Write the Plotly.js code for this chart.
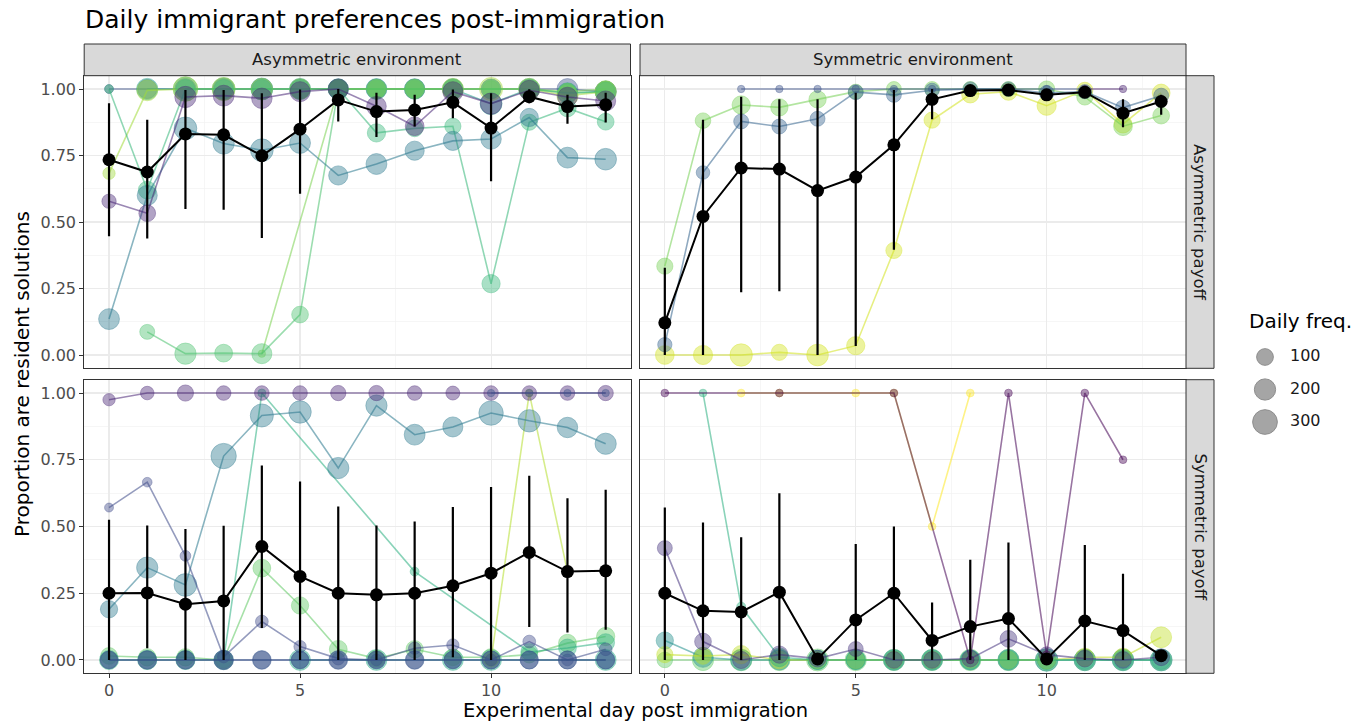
<!DOCTYPE html>
<html><head><meta charset="utf-8">
<script src="https://cdn.plot.ly/plotly-3.0.1.min.js"></script>
<style>html,body{margin:0;padding:0;background:#fff}#chart{width:1369px;height:723px}</style>
</head><body><div id="chart"></div>
<script>
// ---------------- DATA ----------------
const days = [0,1,2,3,4,5,6,7,8,9,10,11,12,13];
const colLabels = ["Asymmetric environment", "Symmetric environment"];
const rowLabels = ["Asymmetric payoff", "Symmetric payoff"];
const legendBreaks = [100, 200, 300];

// Panel: Asymmetric environment / Asymmetric payoff
const aeap_mean  = [0.734,0.688,0.831,0.828,0.749,0.849,0.959,0.915,0.921,0.950,0.853,0.971,0.934,0.941];
const aeap_upper = [0.946,0.884,0.996,0.996,0.984,0.998,1.000,0.986,0.978,0.998,0.984,0.999,0.978,0.986];
const aeap_lower = [0.446,0.438,0.549,0.546,0.440,0.606,0.878,0.820,0.859,0.890,0.653,0.946,0.869,0.874];
const aeap_g1_x = days, aeap_g1_y = [0.578,0.533,0.970,0.975,0.965,0.990,1.000,0.935,0.860,0.990,0.945,0.995,0.970,0.955], aeap_g1_f = [60,100,200,190,180,170,170,160,140,170,200,170,160,170];
const aeap_g2_x = days, aeap_g2_y = [1,1,1,1,1,1,1,1,1,1,1,1,1,0.99], aeap_g2_f = [8,150,200,200,200,170,170,170,170,170,170,170,190,190];
const aeap_g3_x = days, aeap_g3_y = [0.135,0.600,0.852,0.795,0.770,0.797,0.675,0.718,0.768,0.805,0.812,0.893,0.742,0.736], aeap_g3_f = [190,170,240,200,240,190,150,190,150,150,180,130,190,210];
const aeap_g4_x = [1,2,3,4,5,6,7,8,9,10,11,12,13], aeap_g4_y = [1,1,1,1,1,1,1,1,1,0.945,1,0.985,0.99], aeap_g4_f = [200,280,240,220,200,180,190,180,190,220,200,180,200];
const aeap_g5_x = days, aeap_g5_y = [1.0,0.62,1,1,1,1,1,0.835,0.852,0.860,0.268,0.875,0.928,0.877], aeap_g5_f = [6,120,150,150,150,150,150,130,100,90,130,90,110,100];
const aeap_g6_x = [1,2,3,4,5,6,7,8,9,10,11,12,13], aeap_g6_y = [0.087,0.005,0.007,0.005,0.152,1,1,1,1,1,1,0.985,0.99], aeap_g6_f = [70,200,120,170,100,150,150,150,150,150,150,150,150];
const aeap_g7_x = days, aeap_g7_y = [0.683,0.995,1,1,1,1,1,1,1,1,1,1,0.975,0.99], aeap_g7_f = [35,190,300,250,200,180,150,150,150,200,250,200,200,200];
const aeap_g8_x = [4,6,7,8,9,10,11,12,13], aeap_g8_y = [0.005,1,1,1,1,1,1,0.99,1], aeap_g8_f = [2,120,100,100,100,100,100,100,100];

// Panel: Symmetric environment / Asymmetric payoff
const seap_mean  = [0.121,0.521,0.703,0.699,0.618,0.669,0.790,0.961,0.994,0.996,0.978,0.988,0.909,0.953];
const seap_upper = [0.328,0.884,0.971,0.961,0.961,0.986,0.996,1.000,1.000,1.000,0.990,0.998,0.961,0.978];
const seap_lower = [0.000,0.000,0.236,0.240,0.000,0.034,0.396,0.886,0.985,0.990,0.965,0.978,0.856,0.903];
const seap_g1_x = days, seap_g1_y = [0.334,0.881,0.940,0.931,0.961,0.990,1,1,1,1,1,0.970,0.860,0.900], seap_g1_f = [90,80,130,110,110,70,70,70,70,70,90,90,140,100];
const seap_g2_x = days, seap_g2_y = [0.039,0.686,0.878,0.859,0.888,0.988,0.978,0.995,1,1,0.985,0.990,0.930,0.975], seap_g2_f = [60,50,70,70,70,70,70,60,60,60,70,60,70,70];
const seap_g3_x = days, seap_g3_y = [0.0,0.0,0.0,0.010,0.0,0.035,0.393,0.883,0.980,0.990,0.937,0.995,0.868,0.985], seap_g3_f = [140,150,230,90,210,130,90,90,110,110,150,90,120,120];
const seap_g4_x = [2,3,4,5,6,7,8,9,10,11], seap_g4_y = [1,1,1,1,1,1,1,1,1,1], seap_g4_f = [2,2,2,2,2,2,2,2,2,2];
const seap_g5_x = [11,12], seap_g5_y = [1,1], seap_g5_f = [2,2];

// Panel: Asymmetric environment / Symmetric payoff
const aesp_mean  = [0.250,0.251,0.209,0.221,0.425,0.313,0.250,0.244,0.250,0.278,0.325,0.403,0.331,0.334];
const aesp_upper = [0.525,0.504,0.491,0.503,0.729,0.669,0.575,0.504,0.519,0.573,0.648,0.690,0.606,0.638];
const aesp_lower = [0.000,0.044,0.000,0.000,0.120,0.000,0.000,0.000,0.000,0.010,0.000,0.123,0.103,0.113];
const aesp_g1_x = days, aesp_g1_y = [0.975,1,1,1,1,1,1,1,1,1,1,1,1,1], aesp_g1_f = [35,50,90,65,65,65,75,75,65,55,65,65,65,75];
const aesp_g2_x = days, aesp_g2_y = [0.571,0.666,0.390,0.012,0.144,0.050,0.005,0.0,0.044,0.056,0.0,0.069,0.0,0.040], aesp_g2_f = [8,12,20,35,40,35,40,30,35,35,30,40,30,40];
const aesp_g3_x = days, aesp_g3_y = [0.190,0.346,0.281,0.764,0.916,0.929,0.719,0.953,0.844,0.873,0.925,0.896,0.871,0.810], aesp_g3_f = [110,200,240,320,250,230,200,200,190,170,290,230,180,200];
const aesp_g4_x = [0,1,2,3,4,8,11,12,13], aesp_g4_y = [0,0,0,0,1.0,0.331,0.030,0.045,0.065], aesp_g4_f = [150,150,150,150,4,8,100,120,120];
const aesp_g5_x = days, aesp_g5_y = [0.015,0.010,0.010,0.0,0.344,0.204,0.040,0.005,0.040,0.010,0.010,0.020,0.063,0.088], aesp_g5_f = [100,110,110,100,120,110,120,100,110,100,110,100,120,130];
const aesp_g6_x = [10,11,12], aesp_g6_y = [0.0,1.0,0.331], aesp_g6_f = [60,3,3];
const aesp_g7_x = days, aesp_g7_y = [0,0,0,0,0,0,0,0,0,0,0,0,0,0], aesp_g7_f = [120,140,140,160,140,120,140,120,140,120,130,130,130,130];
const aesp_g8_x = [5,7,9,10,13], aesp_g8_y = [0,0,0,0,0], aesp_g8_f = [190,190,190,190,190];
const aesp_g9_x = [10,11,12,13], aesp_g9_y = [1,1,1,1], aesp_g9_f = [2,2,2,2];
const aesp_g10_x = days, aesp_g10_y = [0,0,0,0,0,0,0,0,0,0,0,0,0,0], aesp_g10_f = [110,120,120,140,120,110,120,110,120,110,120,120,120,120];

// Panel: Symmetric environment / Symmetric payoff
const sesp_mean  = [0.250,0.184,0.180,0.254,0.004,0.150,0.250,0.073,0.125,0.155,0.004,0.146,0.110,0.016];
const sesp_upper = [0.571,0.515,0.460,0.625,0.004,0.434,0.500,0.215,0.375,0.440,0.004,0.431,0.323,0.026];
const sesp_lower = [0.000,0.000,0.000,0.000,0.004,0.000,0.000,0.000,0.000,0.000,0.004,0.000,0.000,0.006];
const sesp_g1_x = [0,3,6,8,9,10,11,12], sesp_g1_y = [1,1,1,0.0,1.0,0.02,1.0,0.75], sesp_g1_f = [3,3,3,3,3,3,3,3];
const sesp_g2_x = [2,3,5,6,7,8], sesp_g2_y = [1,1,1,1,0.5,1], sesp_g2_f = [3,3,3,3,3,3];
const sesp_g3_x = [1,2,3,4,5,6,7,8,9,10,11,12,13], sesp_g3_y = [1.0,0.2,0.01,0,0,0,0,0,0,0,0,0,0], sesp_g3_f = [3,8,140,150,150,150,150,150,150,150,150,150,150];
const sesp_g4_x = days, sesp_g4_y = [0.419,0.069,0.0,0.020,0.005,0.041,0.0,0.0,0.005,0.079,0.020,0.005,0.0,0.010], sesp_g4_f = [70,100,110,110,100,70,100,100,100,100,80,100,100,100];
const sesp_g5_x = days, sesp_g5_y = [0.0725,0.010,0,0,0,0,0,0,0,0,0,0,0,0], sesp_g5_f = [110,170,190,170,150,150,190,190,170,190,240,210,210,220];
const sesp_g6_x = days, sesp_g6_y = [0.020,0.015,0.020,0,0,0,0,0,0,0,0,0.010,0.010,0.085], sesp_g6_f = [90,100,130,120,120,120,120,120,100,120,130,130,130,190];
const sesp_g7_x = days, sesp_g7_y = [0,0,0,0,0,0,0,0,0,0,0,0,0,0], sesp_g7_f = [80,200,210,200,220,200,200,200,200,200,220,200,200,200];

// ---------------- STYLE / LAYOUT ----------------
const W = 1369, H = 723;
const FONT = "DejaVu Sans";
const fx = p => p / W, fy = p => 1 - p / H;
const sizeScale = f => 5.8 + 1.09 * Math.sqrt(f);   // diameter in px from frequency
function rgba(hex, a){const n=parseInt(hex.slice(1),16);return `rgba(${(n>>16)&255},${(n>>8)&255},${n&255},${a})`;}
const PT_ALPHA = 0.6, LN_ALPHA = 0.55;

const PANELS = [
  {ax:'', xd:[84.2,630.5], yd:[75.7,368.3], showX:false, showY:true},
  {ax:'2', xd:[640,1186],  yd:[75.7,368.3], showX:false, showY:false},
  {ax:'3', xd:[84.2,630.5], yd:[379.7,673.3], showX:true, showY:true},
  {ax:'4', xd:[640,1186],  yd:[379.7,673.3], showX:true, showY:false},
];

const groups = [
  // panel index, x, y, freq, colour
  [0,aeap_g2_x,aeap_g2_y,aeap_g2_f,'#3b528b'],
  [0,aeap_g4_x,aeap_g4_y,aeap_g4_f,'#1f9e89'],
  [0,aeap_g7_x,aeap_g7_y,aeap_g7_f,'#a0da39'],
  [0,aeap_g8_x,aeap_g8_y,aeap_g8_f,'#7ad151'],
  [0,aeap_g6_x,aeap_g6_y,aeap_g6_f,'#4ac16d'],
  [0,aeap_g5_x,aeap_g5_y,aeap_g5_f,'#35b779'],
  [0,aeap_g3_x,aeap_g3_y,aeap_g3_f,'#2a788e'],
  [0,aeap_g1_x,aeap_g1_y,aeap_g1_f,'#482677'],
  [1,seap_g3_x,seap_g3_y,seap_g3_f,'#d2e21b'],
  [1,seap_g1_x,seap_g1_y,seap_g1_f,'#75d054'],
  [1,seap_g2_x,seap_g2_y,seap_g2_f,'#33638d'],
  [1,seap_g4_x,seap_g4_y,seap_g4_f,'#3b528b'],
  [1,seap_g5_x,seap_g5_y,seap_g5_f,'#481f70'],
  [2,aesp_g8_x,aesp_g8_y,aesp_g8_f,'#22a884'],
  [2,aesp_g5_x,aesp_g5_y,aesp_g5_f,'#5ec962'],
  [2,aesp_g4_x,aesp_g4_y,aesp_g4_f,'#29af7f'],
  [2,aesp_g6_x,aesp_g6_y,aesp_g6_f,'#b5de2b'],
  [2,aesp_g3_x,aesp_g3_y,aesp_g3_f,'#2a788e'],
  [2,aesp_g2_x,aesp_g2_y,aesp_g2_f,'#3e4a89'],
  [2,aesp_g7_x,aesp_g7_y,aesp_g7_f,'#31538a'],
  [2,aesp_g10_x,aesp_g10_y,aesp_g10_f,'#3b528b'],
  [2,aesp_g1_x,aesp_g1_y,aesp_g1_f,'#482475'],
  [2,aesp_g9_x,aesp_g9_y,aesp_g9_f,'#3b528b'],
  [3,sesp_g7_x,sesp_g7_y,sesp_g7_f,'#5ec962'],
  [3,sesp_g5_x,sesp_g5_y,sesp_g5_f,'#21908c'],
  [3,sesp_g6_x,sesp_g6_y,sesp_g6_f,'#c2df23'],
  [3,sesp_g3_x,sesp_g3_y,sesp_g3_f,'#29af7f'],
  [3,sesp_g4_x,sesp_g4_y,sesp_g4_f,'#46337e'],
  [3,sesp_g2_x,sesp_g2_y,sesp_g2_f,'#fde725'],
  [3,sesp_g1_x,sesp_g1_y,sesp_g1_f,'#440154'],
];
const means = [
  [0,aeap_mean,aeap_upper,aeap_lower],
  [1,seap_mean,seap_upper,seap_lower],
  [2,aesp_mean,aesp_upper,aesp_lower],
  [3,sesp_mean,sesp_upper,sesp_lower],
];

const traces = [];
groups.forEach(([p,x,y,f,c]) => {
  const ax = PANELS[p].ax;
  traces.push({type:'scatter', mode:'lines+markers', x, y, xaxis:'x'+ax, yaxis:'y'+ax,
    line:{color:rgba(c,LN_ALPHA), width:1.6},
    marker:{size:f.map(sizeScale), color:rgba(c,PT_ALPHA), line:{color:rgba(c,PT_ALPHA), width:1}},
    hoverinfo:'skip', showlegend:false});
});
means.forEach(([p,m,u,l]) => {
  const ax = PANELS[p].ax;
  traces.push({type:'scatter', mode:'lines+markers', x:days, y:m, xaxis:'x'+ax, yaxis:'y'+ax,
    line:{color:'#000', width:2}, marker:{size:13, color:'#000'},
    error_y:{type:'data', symmetric:false, array:u.map((v,i)=>v-m[i]), arrayminus:m.map((v,i)=>v-l[i]),
      color:'#000', thickness:2.2, width:0},
    hoverinfo:'skip', showlegend:false});
});
// size legend
traces.push({type:'scatter', mode:'markers', x:legendBreaks.map(()=>25), y:[0,1,2], xaxis:'x5', yaxis:'y5',
  marker:{size:legendBreaks.map(sizeScale), color:'#808080', line:{color:'#5e5e5e', width:1}},
  hoverinfo:'skip', showlegend:false});
traces.push({type:'scatter', mode:'text', x:legendBreaks.map(()=>50), y:[0,1,2], xaxis:'x5', yaxis:'y5',
  text:legendBreaks.map(String), textposition:'middle right', textfont:{family:FONT, size:16, color:'#1a1a1a'},
  hoverinfo:'skip', showlegend:false});

const layout = {width:W, height:H, margin:{l:0,r:0,t:0,b:0}, paper_bgcolor:'#fff', plot_bgcolor:'#fff',
  font:{family:FONT}, showlegend:false, shapes:[], annotations:[]};

PANELS.forEach(P => {
  layout['xaxis'+P.ax] = {domain:[fx(P.xd[0]), fx(P.xd[1])], anchor:'y'+P.ax, range:[-0.65,13.65],
    tickmode:'linear', tick0:0, dtick:5, showgrid:true, gridcolor:'#ebebeb', gridwidth:1.1,
    minor:{dtick:2.5, showgrid:true, gridcolor:'#f2f2f2', gridwidth:0.7},
    zeroline:false, showline:true, mirror:true, linecolor:'#333333', linewidth:1,
    ticks:P.showX?'outside':'', ticklen:4, tickcolor:'#333333', tickwidth:1, ticklabelstandoff:-2,
    showticklabels:P.showX, tickfont:{family:FONT, size:16, color:'#4d4d4d'}, fixedrange:true};
  layout['yaxis'+P.ax] = {domain:[fy(P.yd[1]), fy(P.yd[0])], anchor:'x'+P.ax, range:[-0.05,1.05],
    tickmode:'linear', tick0:0, dtick:0.25, tickformat:'.2f', showgrid:true, gridcolor:'#ebebeb', gridwidth:1.1,
    minor:{dtick:0.125, showgrid:true, gridcolor:'#f2f2f2', gridwidth:0.7},
    zeroline:false, showline:true, mirror:true, linecolor:'#333333', linewidth:1,
    ticks:P.showY?'outside':'', ticklen:4, tickcolor:'#333333', tickwidth:1,
    showticklabels:P.showY, tickfont:{family:FONT, size:16, color:'#4d4d4d'}, fixedrange:true};
});
layout.xaxis5 = {domain:[fx(1240), fx(1340)], anchor:'y5', range:[0,100], visible:false, fixedrange:true};
layout.yaxis5 = {domain:[fy(438.25), fy(340.75)], anchor:'x5', range:[2.5,-0.5], visible:false, fixedrange:true};

// strips
[[84.2,630.5],[640,1186]].forEach((xd,i) => {
  layout.shapes.push({type:'rect', xref:'paper', yref:'paper', x0:fx(xd[0]), x1:fx(xd[1]), y0:fy(75.7), y1:fy(44),
    fillcolor:'#d9d9d9', line:{color:'#333333', width:1}, layer:'above'});
  layout.annotations.push({xref:'paper', yref:'paper', x:fx((xd[0]+xd[1])/2), y:fy(59.8), text:colLabels[i],
    showarrow:false, xanchor:'center', yanchor:'middle', font:{family:FONT, size:16.5, color:'#1a1a1a'}});
});
[[75.7,368.3],[379.7,673.3]].forEach((yd,i) => {
  layout.shapes.push({type:'rect', xref:'paper', yref:'paper', x0:fx(1186), x1:fx(1214), y0:fy(yd[1]), y1:fy(yd[0]),
    fillcolor:'#d9d9d9', line:{color:'#333333', width:1}, layer:'above'});
  layout.annotations.push({xref:'paper', yref:'paper', x:fx(1200), y:fy((yd[0]+yd[1])/2), text:rowLabels[i],
    textangle:90, showarrow:false, xanchor:'center', yanchor:'middle', font:{family:FONT, size:16.5, color:'#1a1a1a'}});
});
layout.annotations.push({xref:'paper', yref:'paper', x:fx(83), y:fy(19), text:'Daily immigrant preferences post-immigration',
  showarrow:false, xanchor:'left', yanchor:'middle', font:{family:FONT, size:25, color:'#000'}});
layout.annotations.push({xref:'paper', yref:'paper', x:fx(635), y:fy(710), text:'Experimental day post immigration',
  showarrow:false, xanchor:'center', yanchor:'middle', font:{family:FONT, size:19.5, color:'#000'}});
layout.annotations.push({xref:'paper', yref:'paper', x:fx(22), y:fy(374), text:'Proportion are resident solutions',
  textangle:-90, showarrow:false, xanchor:'center', yanchor:'middle', font:{family:FONT, size:20, color:'#000'}});
layout.annotations.push({xref:'paper', yref:'paper', x:fx(1247), y:fy(321), text:'Daily freq.',
  showarrow:false, xanchor:'left', yanchor:'middle', font:{family:FONT, size:20, color:'#000'}});

Plotly.newPlot('chart', traces, layout, {staticPlot:true, displayModeBar:false});
</script></body></html>
